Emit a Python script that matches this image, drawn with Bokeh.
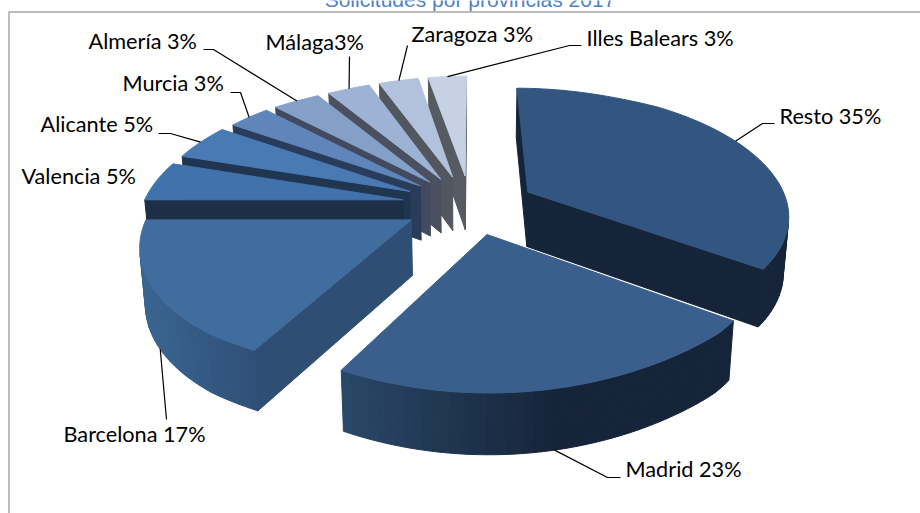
import numpy as np
from bokeh.plotting import figure
from bokeh.models import ColumnDataSource
from bokeh.core.properties import value
from bokeh.embed import file_html
from bokeh.resources import INLINE

# ---- data -------------------------------------------------------------
provinces = ["Resto", "Madrid", "Barcelona", "Valencia", "Alicante",
             "Murcia", "Almería", "Málaga", "Zaragoza", "Illes Balears"]
shares = [35, 23, 17, 5, 4.5, 3.1, 3.1, 3.1, 3.1, 3.1]
label_texts = ["Resto 35%", "Madrid 23%", "Barcelona 17%", "Valencia 5%", "Alicante 5%",
               "Murcia 3%", "Almería 3%", "Málaga3%", "Zaragoza 3%", "Illes Balears 3%"]
chart_title = "Solicitudes por provincias 2017"

# ---- styles -----------------------------------------------------------
top_colors = ["#32567f", "#3b5f8d", "#406c9e", "#4272ab", "#4a7ab4",
              "#6085ba", "#84a0c8", "#9db2d5", "#b3c2dc", "#c6d1e4"]
wall_colors = ["#16243a", "#16243a", "#2e4e73", "#1d2f47", "#203650",
               "#293c5a", "#414a5f", "#4a505f", "#52565f", "#565a61"]
rim_left = ["#1a2b42", "#2a4868", "#3a6591", "#3a6591", "#3a6591",
            "#3a6591", "#3a6591", "#3a6591", "#3a6591", "#3a6591"]
rim_right = ["#16243a", "#16243a", "#2f5079", "#2f5079", "#2f5079",
             "#2f5079", "#2f5079", "#2f5079", "#2f5079", "#2f5079"]
rim_ramp_end = [1.0, 0.55, 1.0, 1.0, 1.0, 1.0, 1.0, 1.0, 1.0, 1.0]
paint_order = [9, 8, 7, 6, 5, 4, 3, 2, 0, 1]
explode_factor = [0.94, 1, 1, 1.02, 1.02, 1, 1, 1, 1, 1]

# label layout: anchor of text (left, vertical middle), leader elbow points, rim used
label_left = [779, 625, 63, 21, 40, 122, 88, 265, 411, 586]
label_mid = [115, 468, 433, 175, 123, 82, 40, 41, 33, 37]
leader_elbows = [[(762, 123), (774, 123)], [(607, 477), (620, 477)], [(166, 419)], [],
                 [(170, 133), (158, 133)], [(240, 92), (230, 92)], [(213, 49), (203, 49)],
                 [(349, 56)], [(407, 45)], [(569, 45), (581, 45)]]
leader_on_bottom = [False, True, True, False, False, False, False, False, False, False]

# ---- projection of the 3-D pie ----------------------------------------
CX, AX, QX = 471.0, 260.0, 0.17
Y0, BY, QY = 204.0, 123.5, 0.155
EXPLODE_X, EXPLODE_Y = 0.263, 0.24


def proj_top(X, Y):
    Y = np.asarray(Y, dtype=float)
    wx = 1 + QX * np.maximum(Y, -0.9) + 0.35 * np.maximum(Y - 0.9, 0.0)
    return CX + AX * X / wx, Y0 - BY * Y / (1 + QY * Y)


def proj_bottom(X, Y):
    sx, sy = proj_top(X, Y)
    return CX + (sx - CX) * 0.983, sy + 55.0 - 5.5 * Y


def hex_mix(a, b, t):
    ca = [int(a[i:i + 2], 16) for i in (1, 3, 5)]
    cb = [int(b[i:i + 2], 16) for i in (1, 3, 5)]
    return "#%02x%02x%02x" % tuple(int(round(u + (v - u) * t)) for u, v in zip(ca, cb))


def area(xs, ys):
    return sum(xs[i] * ys[(i + 1) % len(xs)] - xs[(i + 1) % len(xs)] * ys[i] for i in range(len(xs)))


fracs = np.array(shares, dtype=float) / sum(shares)
edges = np.concatenate([[0.0], np.cumsum(fracs)]) * 2 * np.pi
mids = (edges[:-1] + edges[1:]) / 2

px, py, pc = [], [], []


def add(xs, ys, c):
    px.append([float(v) for v in xs])
    py.append([float(v) for v in ys])
    pc.append(c)


def slice_offset(i):
    return (EXPLODE_X * explode_factor[i] * np.sin(mids[i]),
            EXPLODE_Y * explode_factor[i] * np.cos(mids[i]))


for i in paint_order:
    a0, a1 = edges[i], edges[i + 1]
    ang = np.linspace(a0, a1, max(8, int((a1 - a0) / 0.03)))
    ox, oy = slice_offset(i)
    X, Y = ox + np.sin(ang), oy + np.cos(ang)
    tx, ty = proj_top(X, Y)
    bx, by = proj_bottom(X, Y)
    acx, acy = proj_top(ox, oy)
    abx, aby = proj_bottom(ox, oy)
    # radial walls
    w = ([acx, tx[0], bx[0], abx], [acy, ty[0], by[0], aby])
    if area(*w) < 0:
        add(*w, wall_colors[i])
    w = ([acx, tx[-1], bx[-1], abx], [acy, ty[-1], by[-1], aby])
    if area(*w) > 0:
        add(*w, wall_colors[i])
    # outer wall, in strips
    xmin, xmax = bx.min(), bx.max()
    for k in range(len(ang) - 1):
        qx = [tx[k], tx[k + 1], bx[k + 1], bx[k]]
        qy = [ty[k], ty[k + 1], by[k + 1], by[k]]
        if area(qx, qy) < 0:
            t = min(1.0, (bx[k] - xmin) / max(1.0, xmax - xmin) / rim_ramp_end[i])
            add(qx, qy, hex_mix(rim_left[i], rim_right[i], t))
    # top face
    add([acx] + list(tx), [acy] + list(ty), top_colors[i])

p = figure(width=920, height=513, x_range=(0, 920), y_range=(513, 0), toolbar_location=None,
           output_backend="svg", min_border=0, outline_line_color=None,
           background_fill_color="white", border_fill_color="white", margin=(0, 0, 0, 0))
p.axis.visible = False
p.xaxis.visible = False
p.yaxis.visible = False
p.grid.visible = False

# chart frame
p.line([8.5, 8.5, 920], [513, 11.5, 11.5], line_color="#a6a6a6", line_width=1.5)

src = ColumnDataSource(dict(xs=px, ys=py, c=pc))
p.patches("xs", "ys", source=src, fill_color="c", line_color="c", line_width=1)

# leaders: from the slice's rim at its middle angle to the label
for i in range(len(shares)):
    if not leader_elbows[i]:
        continue
    ox, oy = slice_offset(i)
    mx = ox + np.sin(mids[i])
    my = oy + np.cos(mids[i])
    ax, ay = proj_bottom(mx, my) if leader_on_bottom[i] else proj_top(mx, my)
    pts = [(float(ax), float(ay))] + leader_elbows[i]
    p.line([q[0] for q in pts], [q[1] for q in pts], line_color="black", line_width=1.2)

p.text(x=label_left, y=label_mid, text=label_texts, text_font=value("Lato"),
       text_font_size="21.7px", text_color="black", text_baseline="middle", text_align="left")
p.text(x=[469.5], y=[-1], text=[chart_title], text_font=value("Liberation Sans"),
       text_font_size="21px", text_color="#4f81c7", text_baseline="alphabetic", text_align="center")

open("out.html", "w").write(file_html(p, INLINE))
